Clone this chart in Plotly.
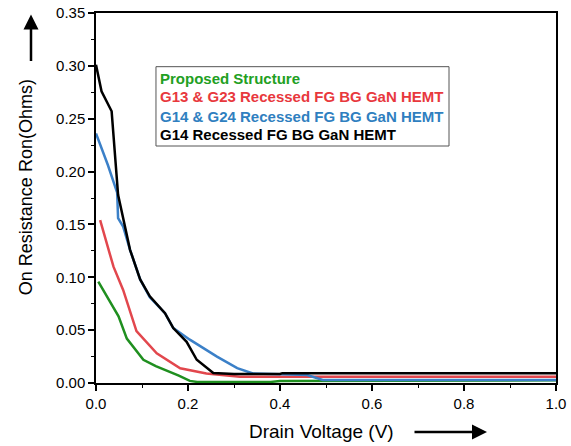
import plotly.graph_objects as go

# ---- data ----
x_prop = [0.005, 0.02, 0.049, 0.067, 0.085, 0.103, 0.13, 0.154, 0.18, 0.204, 0.22, 0.30, 0.38, 0.40, 0.48, 0.50, 1.0]
y_prop = [0.096, 0.085, 0.063, 0.042, 0.032, 0.022, 0.016, 0.012, 0.007, 0.002, 0.001, 0.001, 0.001, 0.002, 0.002, 0.0025, 0.0025]

x_g13 = [0.009, 0.038, 0.059, 0.088, 0.132, 0.183, 0.24, 0.313, 0.40, 0.48, 1.0]
y_g13 = [0.154, 0.110, 0.088, 0.049, 0.028, 0.014, 0.009, 0.006, 0.006, 0.006, 0.006]

x_g14g24 = [0.0, 0.026, 0.046, 0.048, 0.059, 0.074, 0.096, 0.117, 0.15, 0.168, 0.204, 0.263, 0.307, 0.341, 0.443, 0.459, 0.493, 1.0]
y_g14g24 = [0.236, 0.206, 0.180, 0.156, 0.148, 0.126, 0.098, 0.081, 0.066, 0.052, 0.041, 0.025, 0.014, 0.009, 0.0078, 0.0076, 0.0028, 0.0028]

x_g14 = [0.0, 0.012, 0.034, 0.048, 0.074, 0.096, 0.117, 0.15, 0.168, 0.197, 0.219, 0.255, 0.30, 0.40, 0.405, 1.0]
y_g14 = [0.301, 0.276, 0.257, 0.178, 0.126, 0.098, 0.082, 0.066, 0.052, 0.039, 0.022, 0.0095, 0.0085, 0.0085, 0.0093, 0.0093]

names = ["Proposed Structure",
         "G13 & G23 Recessed FG BG GaN HEMT",
         "G14 & G24 Recessed FG BG GaN HEMT",
         "G14 Recessed FG BG GaN HEMT"]
line_colors = ["#1f8f1f", "#e2474d", "#3b80c8", "#000000"]
text_colors = ["#22a022", "#e8383d", "#2f7fc0", "#000000"]

x_ticks = [0.0, 0.2, 0.4, 0.6, 0.8, 1.0]
y_ticks = [0.00, 0.05, 0.10, 0.15, 0.20, 0.25, 0.30, 0.35]

fig = go.Figure()
series = [(x_prop, y_prop), (x_g13, y_g13), (x_g14g24, y_g14g24), (x_g14, y_g14)]
for i, (xs, ys) in enumerate(series):
    fig.add_trace(go.Scatter(x=xs, y=ys, mode="lines", name=names[i],
                             line=dict(color=line_colors[i], width=2.5),
                             showlegend=False))

font_family = "Liberation Sans, Arial, sans-serif"

fig.update_layout(
    width=571, height=446,
    margin=dict(l=96, r=15, t=13, b=63, autoexpand=False),
    paper_bgcolor="white", plot_bgcolor="white",
    font=dict(family=font_family, color="black", size=15),
)
fig.update_xaxes(range=[0, 1.0], tickvals=x_ticks, tickformat=".1f", automargin=False,
                 showline=True, linecolor="black", linewidth=1.5, mirror=True,
                 ticks="outside", ticklen=6, tickwidth=1.5, tickcolor="black",
                 minor=dict(dtick=0.1, ticks="outside", ticklen=3, tickcolor="black", tickwidth=1.2),
                 showgrid=False, zeroline=False,
                 tickfont=dict(size=15, family=font_family))
fig.update_yaxes(range=[0, 0.35], tickvals=y_ticks, tickformat=".2f", automargin=False,
                 showline=True, linecolor="black", linewidth=1.5, mirror=True,
                 ticks="outside", ticklen=6, tickwidth=1.5, tickcolor="black",
                 minor=dict(dtick=0.025, ticks="outside", ticklen=3, tickcolor="black", tickwidth=1.2),
                 showgrid=False, zeroline=False,
                 tickfont=dict(size=15, family=font_family))

# legend: bordered box with coloured text rows
fig.add_shape(type="rect", xref="paper", yref="paper",
              x0=0.1304, x1=0.7674, y0=0.6405, y1=0.8549,
              line=dict(color="#555555", width=1), fillcolor="white", layer="above")
row_y = [0.8235, 0.7738, 0.7216, 0.6703]
for n, c, yy in zip(names, text_colors, row_y):
    fig.add_annotation(xref="paper", yref="paper", x=0.1348, y=yy,
                       xanchor="left", yanchor="middle", showarrow=False,
                       text=f"<b>{n}</b>", font=dict(size=15, family=font_family, color=c))

# axis titles
fig.add_annotation(xref="paper", yref="paper", x=0.4913, y=-0.1324,
                   xanchor="center", yanchor="middle", showarrow=False,
                   text="Drain Voltage (V)", font=dict(size=19, family=font_family))
fig.add_annotation(xref="paper", yref="paper", x=-0.1507, y=0.5284,
                   xanchor="center", yanchor="middle", showarrow=False, textangle=-90,
                   text="On Resistance Ron(Ohms)", font=dict(size=18, family=font_family))

# arrows
fig.add_annotation(xref="paper", yref="paper", x=0.85, y=-0.1324, text="",
                   showarrow=True, arrowhead=2, arrowsize=1.2, arrowwidth=2.5,
                   arrowcolor="black", ax=-74, ay=0)
fig.add_annotation(xref="paper", yref="paper", x=-0.1413, y=0.996, text="",
                   showarrow=True, arrowhead=2, arrowsize=1.2, arrowwidth=2.5,
                   arrowcolor="black", ax=0, ay=48)

fig.write_html("out.html", config={"displayModeBar": False},
               post_script="document.body.style.margin='0';document.body.style.overflow='hidden';")
